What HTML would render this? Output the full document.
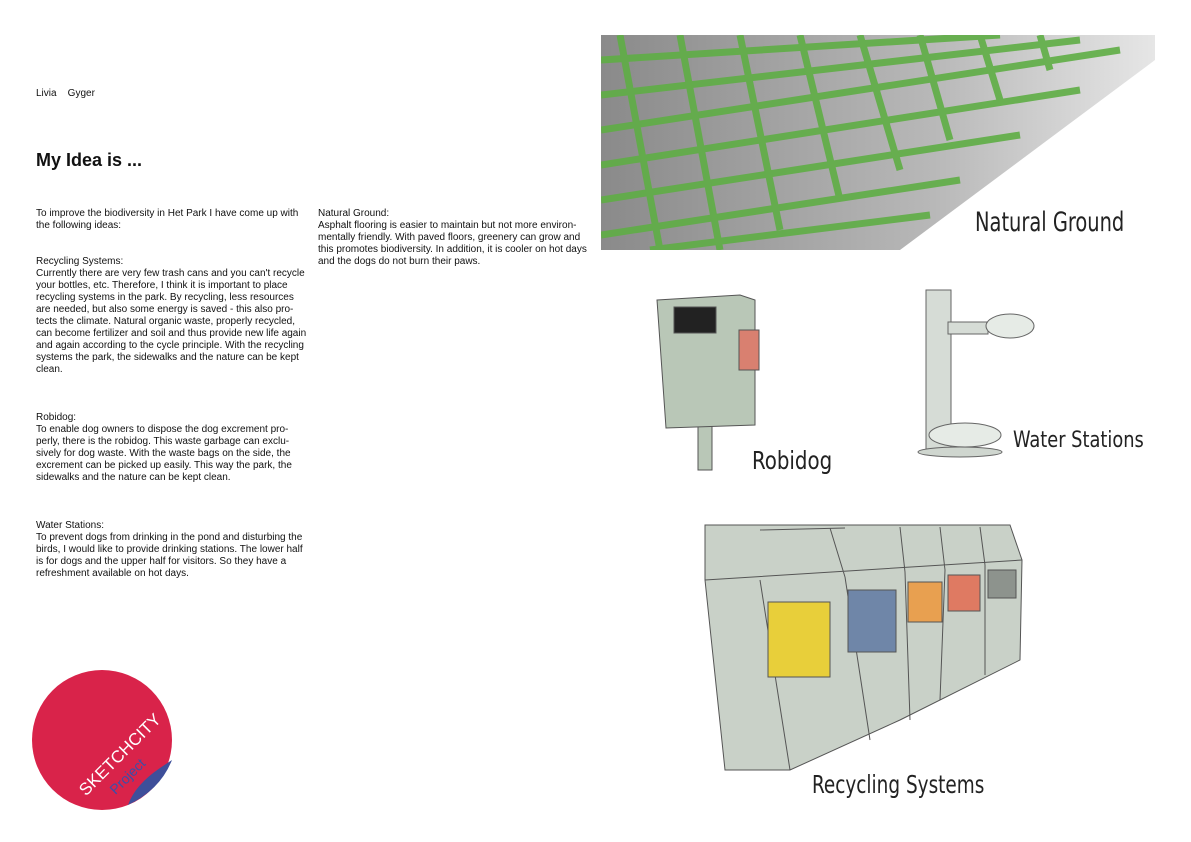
<!DOCTYPE html>
<html><head><meta charset="utf-8"><style>
body{margin:0;width:1191px;height:842px;background:#fff;position:relative;overflow:hidden;font-family:"Liberation Sans",sans-serif;color:#111}
.t{position:absolute;font-size:10px;line-height:12px;white-space:pre}
.h{position:absolute;font-family:"DejaVu Sans Condensed","Liberation Sans Narrow",sans-serif;font-weight:300;color:#222;transform-origin:0 0;white-space:nowrap}
</style></head><body>
<div class="t" style="left:36px;top:88px">Livia    Gyger</div>
<div style="position:absolute;left:36px;top:150px;font-size:18px;font-weight:bold">My Idea is ...</div>
<div class="t" style="left:36px;top:208px">To improve the biodiversity in Het Park I have come up with
the following ideas:


Recycling Systems:
Currently there are very few trash cans and you can't recycle
your bottles, etc. Therefore, I think it is important to place
recycling systems in the park. By recycling, less resources
are needed, but also some energy is saved - this also pro-
tects the climate. Natural organic waste, properly recycled,
can become fertilizer and soil and thus provide new life again
and again according to the cycle principle. With the recycling
systems the park, the sidewalks and the nature can be kept
clean.



Robidog:
To enable dog owners to dispose the dog excrement pro-
perly, there is the robidog. This waste garbage can exclu-
sively for dog waste. With the waste bags on the side, the
excrement can be picked up easily. This way the park, the
sidewalks and the nature can be kept clean.



Water Stations:
To prevent dogs from drinking in the pond and disturbing the
birds, I would like to provide drinking stations. The lower half
is for dogs and the upper half for visitors. So they have a
refreshment available on hot days.</div>
<div class="t" style="left:318px;top:208px">Natural Ground:
Asphalt flooring is easier to maintain but not more environ-
mentally friendly. With paved floors, greenery can grow and
this promotes biodiversity. In addition, it is cooler on hot days
and the dogs do not burn their paws.</div>

<svg style="position:absolute;left:0;top:0" width="1191" height="842">
<defs><linearGradient id="g" x1="0" y1="0" x2="1" y2="0"><stop offset="0" stop-color="#8a8a8a"/><stop offset="0.6" stop-color="#b8b8b8"/><stop offset="1" stop-color="#e6e6e6"/></linearGradient>
<clipPath id="c"><rect x="601" y="35" width="554" height="215"/></clipPath></defs>
<rect x="601" y="35" width="554" height="215" fill="url(#g)"/>
<g clip-path="url(#c)" stroke="#5fae45" stroke-width="7" fill="none" opacity="0.9">
<path d="M601 60 L1000 35 M601 95 L1080 40 M601 130 L1120 50 M601 165 L1080 90 M601 200 L1020 135 M601 235 L960 180 M650 250 L930 215"/>
<path d="M620 35 L660 250 M680 35 L720 250 M740 35 L780 230 M800 35 L840 200 M860 35 L900 170 M920 35 L950 140 M980 35 L1000 100 M1040 35 L1050 70"/>
</g>
<polygon points="900,250 1155,60 1155,250" fill="#fff"/>
<g stroke="#555" fill="#b9c7b7">
<rect x="698" y="420" width="14" height="50"/>
<path d="M657 300 L740 295 L755 300 L755 425 L666 428 Z"/>
<rect x="674" y="307" width="42" height="26" fill="#222"/>
<rect x="739" y="330" width="20" height="40" fill="#d98070"/>
</g>
<g stroke="#666" fill="#d6dcd6">
<rect x="926" y="290" width="25" height="160"/>
<rect x="948" y="322" width="40" height="12"/>
<ellipse cx="1010" cy="326" rx="24" ry="12" fill="#e6ebe6"/>
<ellipse cx="965" cy="435" rx="36" ry="12" fill="#e6ebe6"/>
<ellipse cx="960" cy="452" rx="42" ry="5" fill="#cfd6cf"/>
</g>
<g stroke="#555" fill="#c9d1c8">
<path d="M705 525 L1010 525 L1022 560 L1020 660 L900 720 L790 770 L725 770 L705 580 Z"/>
<path d="M705 580 L1022 560 M760 530 L845 528 M830 528 L845 577 M900 527 L905 572 M940 527 L945 570 M980 527 L985 565" fill="none"/>
<path d="M760 580 L790 770 M845 577 L870 740 M905 572 L910 720 M945 570 L940 700 M985 565 L985 675" fill="none"/>
<rect x="768" y="602" width="62" height="75" fill="#e8cf3a"/>
<rect x="848" y="590" width="48" height="62" fill="#6f86a8"/>
<rect x="908" y="582" width="34" height="40" fill="#e8a050"/>
<rect x="948" y="575" width="32" height="36" fill="#df7a62"/>
<rect x="988" y="570" width="28" height="28" fill="#8d938d"/>
</g>
<circle cx="102" cy="740" r="70" fill="#d9234a"/>
<path d="M128 805 Q160 790 172 760 L160 768 Q135 785 128 805 Z" fill="#3e4f9a"/>
<text x="50" y="770" transform="rotate(-45 100 740)" font-family="Liberation Sans" font-size="17" fill="#fff">SKETCHCITY</text>
<text x="72" y="790" transform="rotate(-45 100 740)" font-family="Liberation Sans" font-size="14" fill="#3b4fa8">Project</text>
</svg>
<div class="h" style="left:975px;top:207px;font-size:27px;transform:scaleX(0.8)">Natural Ground</div>
<div class="h" style="left:752px;top:446px;font-size:25px;transform:scaleX(0.88)">Robidog</div>
<div class="h" style="left:1013px;top:428px;font-size:22px;transform:scaleX(0.9)">Water Stations</div>
<div class="h" style="left:812px;top:770px;font-size:25px;transform:scaleX(0.82)">Recycling Systems</div>
</body></html>
